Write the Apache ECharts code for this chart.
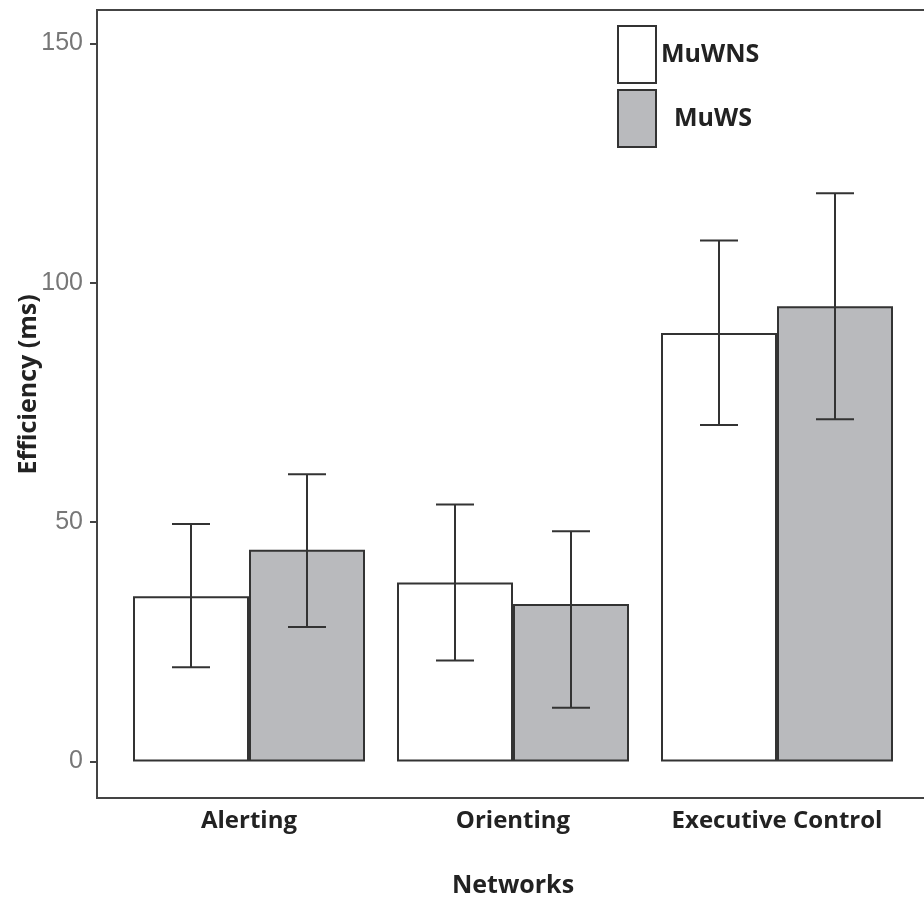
<!DOCTYPE html>
<html>
<head>
<meta charset="utf-8">
<style>
  html, body { margin: 0; padding: 0; background: #fff; }
  #chart { width: 924px; height: 899px; }
</style>
<script src="https://cdn.jsdelivr.net/npm/echarts@6/dist/echarts.min.js"></script>
</head>
<body>
<div id="chart"></div>
<script>
// data
const networks = ['Alerting', 'Orienting', 'Executive Control'];
const groups = ['MuWNS', 'MuWS'];
const muwnsMean = [34.5, 37.4, 89.5];
const muwnsLow = [19.7, 21.1, 70.3];
const muwnsHigh = [49.6, 53.7, 108.8];
const muwsMean = [44.2, 32.9, 95.1];
const muwsLow = [28.1, 11.2, 71.5];
const muwsHigh = [60.0, 48.1, 118.7];
const yTicks = [0, 50, 100, 150];

const BAR_W = 116;
const CAP_W = 38;
const FONT = '"Open Sans", "Noto Sans", sans-serif';

function errorSeries(name, low, high, side) {
  return {
    type: 'custom',
    name: name + ' err',
    z: 5,
    silent: true,
    data: low.map((v, i) => [i, v, high[i]]),
    renderItem(params, api) {
      const lo = api.coord([api.value(0), api.value(1)]);
      const hi = api.coord([api.value(0), api.value(2)]);
      const x = lo[0] + side * BAR_W / 2;
      const style = { stroke: '#333', lineWidth: 2 };
      return {
        type: 'group',
        children: [
          { type: 'line', shape: { x1: x, y1: lo[1], x2: x, y2: hi[1] }, style },
          { type: 'line', shape: { x1: x - CAP_W / 2, y1: lo[1], x2: x + CAP_W / 2, y2: lo[1] }, style },
          { type: 'line', shape: { x1: x - CAP_W / 2, y1: hi[1], x2: x + CAP_W / 2, y2: hi[1] }, style }
        ]
      };
    }
  };
}

const chart = echarts.init(document.getElementById('chart'));
chart.setOption({
  backgroundColor: '#fff',
  animation: false,
  grid: { left: 117, right: 15, top: 43.3, bottom: 137.5, outerBoundsMode: 'none', containLabel: false },
  legend: {
    orient: 'vertical',
    left: 617,
    top: 25,
    padding: 0,
    icon: 'rect',
    itemWidth: 38,
    itemHeight: 57,
    itemGap: 5,
    data: groups,
    textStyle: { fontFamily: FONT, fontWeight: 'bold', fontSize: 25, color: '#222' },
    formatter(n) { return n === 'MuWS' ? '  ' + n : n; }
  },
  xAxis: {
    type: 'category',
    data: networks,
    axisLine: { show: false },
    axisTick: { show: false },
    axisLabel: { interval: 0, hideOverlap: false, margin: 48, fontFamily: FONT, fontWeight: 'bold', fontSize: 24, color: '#222' },
    name: 'Networks',
    nameLocation: 'middle',
    nameGap: 112,
    nameMoveOverlap: false,
    nameTextStyle: { fontFamily: FONT, fontWeight: 'bold', fontSize: 25, color: '#222' }
  },
  yAxis: {
    type: 'value',
    min: yTicks[0],
    max: yTicks[yTicks.length - 1],
    interval: 50,
    offset: 20,
    axisLine: { show: false },
    axisTick: { show: true, length: 7, lineStyle: { color: '#444', width: 2 } },
    splitLine: { show: false },
    axisLabel: { margin: 14, fontFamily: '"Liberation Sans Narrow", "Liberation Sans", sans-serif', fontSize: 25, color: '#777' },
    name: 'Efficiency (ms)',
    nameLocation: 'middle',
    nameGap: 56,
    nameMoveOverlap: false,
    nameTextStyle: { fontFamily: FONT, fontWeight: 'bold', fontSize: 25, color: '#222', padding: [0, 0, 0, 36] }
  },
  graphic: [
    { type: 'line', shape: { x1: 97, y1: 10, x2: 97, y2: 798 }, style: { stroke: '#444', lineWidth: 2 } },
    { type: 'line', shape: { x1: 96, y1: 10, x2: 924, y2: 10 }, style: { stroke: '#444', lineWidth: 2 } },
    { type: 'line', shape: { x1: 96, y1: 798, x2: 924, y2: 798 }, style: { stroke: '#444', lineWidth: 2 } }
  ],
  series: [
    {
      name: 'MuWNS',
      type: 'bar',
      barWidth: BAR_W,
      barGap: '0%',
      data: muwnsMean,
      itemStyle: { color: '#ffffff', borderColor: '#333', borderWidth: 2 }
    },
    {
      name: 'MuWS',
      type: 'bar',
      barWidth: BAR_W,
      barGap: '0%',
      data: muwsMean,
      itemStyle: { color: '#b9babd', borderColor: '#333', borderWidth: 2 }
    },
    errorSeries('MuWNS', muwnsLow, muwnsHigh, -1),
    errorSeries('MuWS', muwsLow, muwsHigh, 1)
  ]
});
</script>
</body>
</html>
